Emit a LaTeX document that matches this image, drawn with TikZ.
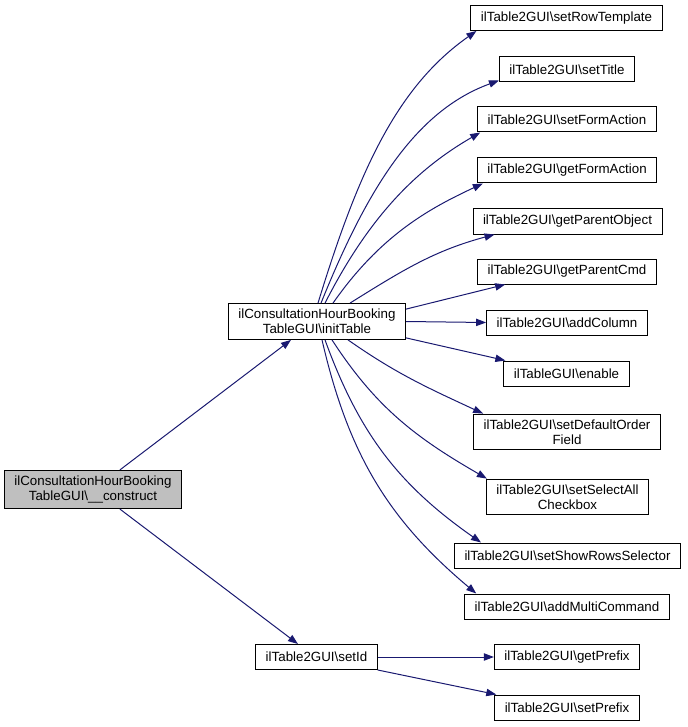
\documentclass[tikz,border=0pt]{standalone}
\usepackage{fontspec}
\setmainfont{Liberation Sans}
\usetikzlibrary{arrows.meta}
\definecolor{edgeblue}{RGB}{25,25,112}

\begin{document}
\begin{tikzpicture}[
      x=0.75pt, y=-0.75pt,
      box/.style={draw, fill=white, align=center, font=\fontsize{10}{11.5}\selectfont, minimum height=18.75pt, inner xsep=7.5pt, inner ysep=4pt, line width=0.75pt},
      rootbox/.style={box, fill=black!25},
      ar/.style={edgeblue, line width=0.75pt, -{Triangle[length=7.5pt, width=5.5pt]}}
    ]
    \useasboundingbox (0,0) rectangle (687,727);
    \node[rootbox] (ctor) at (93,489.5) {ilConsultationHourBooking\\TableGUI\textbackslash\_\_construct};
    \node[box] (init) at (317,321.5) {ilConsultationHourBooking\\TableGUI\textbackslash initTable};
    \node[box] (setid) at (316.5,657) {ilTable2GUI\textbackslash setId};
    % callees of initTable
    \node[box] (rowtpl) at (566.5,18) {ilTable2GUI\textbackslash setRowTemplate};
    \node[box] (title) at (567,69.5) {ilTable2GUI\textbackslash setTitle};
    \node[box] (setform) at (567,119.5) {ilTable2GUI\textbackslash setFormAction};
    \node[box] (getform) at (567,170.5) {ilTable2GUI\textbackslash getFormAction};
    \node[box] (parobj) at (567.5,221.5) {ilTable2GUI\textbackslash getParentObject};
    \node[box] (parcmd) at (567,271.5) {ilTable2GUI\textbackslash getParentCmd};
    \node[box] (addcol) at (567,322.5) {ilTable2GUI\textbackslash addColumn};
    \node[box] (enable) at (566.5,373.5) {ilTableGUI\textbackslash enable};
    \node[box] (deford) at (567,432) {ilTable2GUI\textbackslash setDefaultOrder\\Field};
    \node[box] (selall) at (567.5,497) {ilTable2GUI\textbackslash setSelectAll\\Checkbox};
    \node[box] (showrows) at (567.5,555.5) {ilTable2GUI\textbackslash setShowRowsSelector};
    \node[box] (multi) at (567,606.5) {ilTable2GUI\textbackslash addMultiCommand};
    % callees of setId
    \node[box] (getpre) at (567,657) {ilTable2GUI\textbackslash getPrefix};
    \node[box] (setpre) at (567,707.5) {ilTable2GUI\textbackslash setPrefix};
    \draw[ar] ([xshift=20.25pt]ctor.north) -- ([xshift=-19.5pt]init.south);
    \draw[ar] ([xshift=20.25pt]ctor.south) -- ([xshift=-13.9pt]setid.north);
    \draw[ar] ([xshift=0.75pt]init.north) to[out=73, in=215, out looseness=1.1, in looseness=0.8] ([xshift=4.5pt]rowtpl.south west);
    \draw[ar] ([xshift=3pt]init.north) to[out=68, in=200, out looseness=1.1, in looseness=0.8] ([yshift=1.5pt]title.south west);
    \draw[ar] ([xshift=6pt]init.north) to[out=63, in=210, out looseness=1.1, in looseness=0.8] ([xshift=2.25pt]setform.south west);
    \draw[ar] ([xshift=12pt]init.north) to[out=55, in=205, out looseness=1.1, in looseness=0.8] ([xshift=4.5pt]getform.south west);
    \draw[ar] ([xshift=24.75pt]init.north) to[out=32, in=195] ([xshift=16.5pt]parobj.south west);
    \draw[ar] ([yshift=-4.5pt]init.north east) -- ([xshift=21pt]parcmd.south west);
    \draw[ar] (init.east) -- (addcol.west);
    \draw[ar] ([yshift=1.5pt]init.south east) -- ([xshift=1.5pt]enable.north west);
    \draw[ar] ([xshift=23.25pt]init.south) to[out=-35, in=155] ([xshift=7.5pt]deford.north west);
    \draw[ar] ([xshift=11.25pt]init.south) to[out=-57, in=150] ([xshift=0.75pt]selall.north west);
    \draw[ar] ([xshift=6pt]init.south) to[out=-70, in=145] ([xshift=20.25pt]showrows.north west);
    \draw[ar] ([xshift=3.75pt]init.south) to[out=-77, in=140] ([xshift=9pt]multi.north west);
    \draw[ar] (setid.east) -- (getpre.west);
    \draw[ar] (setid.south east) -- ([xshift=1.5pt]setpre.north west);
  \end{tikzpicture}
\end{document}
